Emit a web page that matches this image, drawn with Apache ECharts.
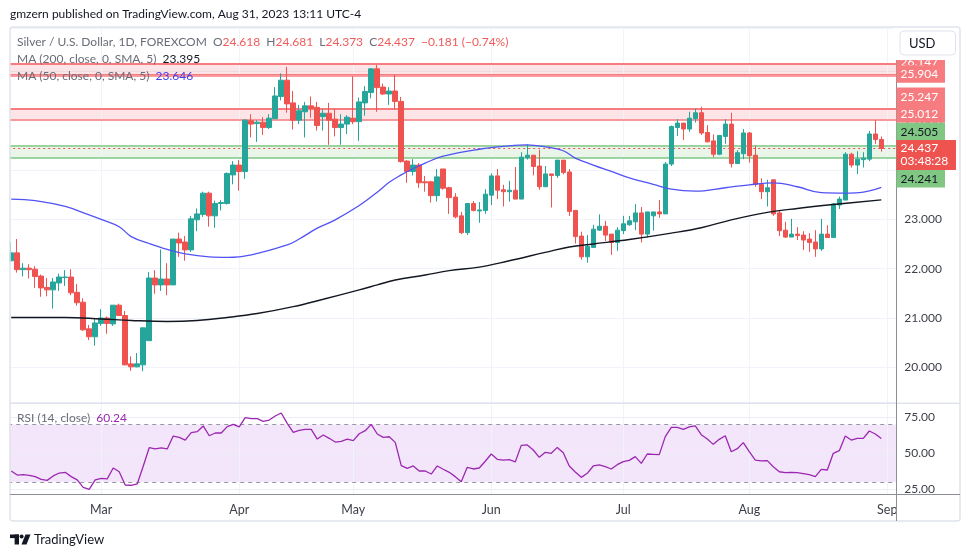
<!DOCTYPE html>
<html><head><meta charset="utf-8">
<script src="https://cdn.jsdelivr.net/npm/echarts/dist/echarts.min.js"></script>
<style>html,body{margin:0;padding:0;background:#fff}#c{width:970px;height:557px}</style>
</head><body><div id="c"></div><script>
const FONT = 'Lato, "Open Sans", sans-serif';
const UP = '#26a69a', DN = '#ef5350';

// ---- categories / tick labels ----
const holidays = ['2023-04-07'];
const monthLabels = ['Mar','Apr','May','Jun','Jul','Aug','Sep'];
const monthStarts = ['2023-03-01','2023-04-03','2023-05-01','2023-06-01','2023-07-03','2023-08-01','2023-09-01'];
const dates = [];
for (let d = new Date(Date.UTC(2023,1,8)); dates.length < 148; d.setUTCDate(d.getUTCDate()+1)) {
  const wd = d.getUTCDay();
  if (wd === 0 || wd === 6) continue;
  const s = d.toISOString().slice(0,10);
  if (holidays.includes(s)) continue;
  dates.push(s);
}

// ---- candles: [open, close, low, high] ----
const ohlc = [
[22.16,22.32,22.14,22.54],[22.32,21.98,21.92,22.60],[21.98,22.01,21.84,22.11],[22.01,21.98,21.80,22.09],
[21.99,21.84,21.61,22.05],[21.85,21.61,21.43,21.88],[21.62,21.57,21.44,21.81],[21.57,21.73,21.19,21.81],
[21.71,21.83,21.55,21.90],[21.82,21.83,21.65,21.97],[21.83,21.51,21.46,21.99],[21.52,21.31,21.25,21.69],
[21.32,20.76,20.74,21.40],[20.78,20.62,20.55,20.86],[20.62,20.90,20.44,20.99],[20.89,21.00,20.84,21.18],
[21.00,20.89,20.68,21.03],[20.88,21.26,20.84,21.26],[21.26,21.05,21.04,21.29],[21.05,20.05,20.04,21.14],
[20.07,20.01,19.93,20.22],[20.01,20.07,20.00,20.29],[20.05,20.80,19.92,20.80],[20.54,21.81,20.54,21.93],
[21.81,21.67,21.49,21.97],[21.67,21.79,21.55,22.39],[21.79,21.67,21.46,22.11],[21.67,22.60,21.67,22.60],
[22.60,22.52,22.24,22.73],[22.54,22.38,22.16,22.66],[22.38,23.01,22.34,23.07],[22.99,23.11,22.76,23.22],
[23.10,23.53,23.05,23.56],[23.53,23.07,22.85,23.56],[23.07,23.32,22.83,23.38],[23.32,23.34,23.18,23.39],
[23.32,23.93,23.30,23.95],[23.90,24.10,23.71,24.18],[24.10,23.97,23.58,24.20],[23.97,25.01,23.82,25.03],
[25.00,24.93,24.66,25.13],[24.94,24.97,24.57,25.01],[24.97,24.86,24.71,25.07],[24.86,25.05,24.83,25.13],
[25.04,25.50,25.03,25.68],[25.49,25.82,25.41,25.96],[25.82,25.34,25.16,26.09],[25.36,25.01,24.82,25.60],
[25.01,25.20,24.93,25.32],[25.18,25.30,24.66,25.38],[25.30,25.25,25.06,25.49],[25.27,24.90,24.80,25.38],
[25.08,25.15,24.80,25.23],[25.15,25.01,24.51,25.36],[25.03,24.86,24.68,25.24],[24.86,24.93,24.51,25.13],
[24.93,25.07,24.73,25.11],[25.05,24.98,24.93,25.90],[24.98,25.38,24.59,25.47],[25.36,25.59,25.10,25.70],
[25.57,26.05,25.45,26.06],[26.05,25.67,25.18,26.13],[25.68,25.54,25.52,25.75],[25.54,25.60,25.32,25.68],
[25.60,25.39,25.23,25.93],[25.39,24.17,24.15,25.48],[24.18,23.97,23.74,24.20],[23.97,24.10,23.89,24.22],
[24.10,23.74,23.64,24.14],[23.76,23.74,23.56,23.88],[23.76,23.48,23.34,23.78],[23.48,23.86,23.36,24.02],
[24.02,23.63,23.60,24.02],[23.64,23.44,23.11,23.66],[23.45,23.05,23.02,23.53],[23.07,22.73,22.70,23.15],
[22.73,23.32,22.68,23.32],[23.32,23.18,23.16,23.37],[23.17,23.19,22.93,23.35],[23.18,23.51,23.11,23.61],
[23.49,23.88,23.29,23.93],[23.88,23.59,23.41,24.02],[23.60,23.56,23.26,23.70],[23.56,23.59,23.36,23.78],
[23.59,23.41,23.41,24.06],[23.41,24.26,23.41,24.36],[24.25,24.30,24.21,24.52],[24.30,24.07,23.89,24.30],
[24.08,23.66,23.60,24.41],[23.66,23.92,23.66,24.08],[23.92,23.89,23.24,23.92],[23.89,24.20,23.84,24.20],
[24.20,23.95,23.91,24.20],[23.96,23.16,23.07,24.02],[23.18,22.65,22.51,23.19],[22.66,22.24,22.18,22.75],
[22.24,22.45,22.12,22.68],[22.43,22.80,22.43,22.89],[22.78,22.86,22.77,23.10],[22.86,22.68,22.56,22.97],
[22.70,22.53,22.28,22.70],[22.53,22.78,22.36,22.84],[22.77,22.91,22.70,23.07],[22.89,22.97,22.87,23.07],
[22.95,23.13,22.78,23.31],[23.13,22.70,22.53,23.25],[22.70,23.15,22.63,23.15],[23.07,23.15,22.77,23.15],
[23.15,23.11,23.03,23.39],[23.11,24.12,23.11,24.16],[24.12,24.88,24.08,24.90],[24.86,24.95,24.69,25.03],
[24.95,24.83,24.61,24.95],[24.83,25.05,24.77,25.18],[25.04,25.16,24.96,25.24],[25.16,24.75,24.71,25.28],
[24.76,24.57,24.56,24.91],[24.59,24.32,24.26,24.72],[24.32,24.70,24.30,24.71],[24.68,24.93,24.53,25.03],
[24.93,24.13,24.05,25.16],[24.13,24.35,24.13,24.40],[24.33,24.75,24.22,24.83],[24.75,24.29,24.15,24.77],
[24.30,23.71,23.66,24.49],[23.71,23.56,23.41,23.83],[23.56,23.64,23.26,23.80],[23.80,23.11,23.07,23.80],
[23.13,22.77,22.66,23.18],[22.78,22.64,22.62,22.95],[22.64,22.70,22.64,23.01],[22.70,22.67,22.58,22.84],
[22.68,22.58,22.38,22.76],[22.60,22.53,22.34,22.72],[22.54,22.40,22.24,22.78],[22.40,22.70,22.36,23.01],
[22.70,22.63,22.63,22.88],[22.63,23.31,22.63,23.33],[23.29,23.41,23.21,23.46],[23.39,24.32,23.39,24.36],
[24.32,24.10,24.05,24.35],[24.10,24.22,23.92,24.38],[24.21,24.24,24.05,24.36],[24.22,24.73,24.18,24.79],
[24.73,24.618,24.53,25.01],[24.618,24.437,24.373,24.681]
];

// ---- moving averages: [bar index, value] ----
const ma200Pts = [[0,21.01],[9,21.01],[15,20.98],[20,20.95],[26,20.93],[31,20.95],[36,21.01],[41,21.09],
[47,21.23],[52,21.38],[58,21.57],[61,21.67],[64,21.77],[69,21.87],[73,21.96],[78,22.03],[83,22.16],[89,22.33],
[93,22.44],[97,22.50],[103,22.59],[110,22.72],[115,22.83],[120,22.99],[126,23.14],[131,23.22],[137,23.30],[145,23.395]];
const ma50Pts = [[0,23.41],[4,23.38],[9,23.26],[13,23.09],[15,23.00],[18,22.85],[20,22.65],[23,22.51],[26,22.39],
[29,22.30],[33,22.24],[36,22.23],[38,22.24],[41,22.31],[46,22.48],[48,22.60],[51,22.82],[54,22.99],[58,23.28],
[61,23.55],[63,23.75],[65,23.90],[67,24.03],[69,24.14],[72,24.28],[78,24.42],[83,24.49],[86,24.51],[89,24.47],
[92,24.39],[94,24.24],[97,24.10],[100,23.97],[103,23.84],[107,23.71],[110,23.61],[114,23.57],[119,23.64],
[123,23.70],[127,23.74],[131,23.66],[135,23.54],[139,23.53],[142,23.55],[145,23.646]];

// ---- RSI(14) ----
const rsi = [37.7,34.9,35.2,34.7,33.8,31.9,31.2,34.3,36.3,36.8,33.8,31.5,26.4,25.0,31.5,32.6,32.2,39.8,37.2,28.0,
27.8,28.7,41.0,53.9,53.0,53.7,53.0,62.0,61.1,59.2,64.3,65.0,69.0,62.2,64.1,64.1,68.5,70.1,68.3,74.7,
74.1,74.1,72.2,73.1,75.9,78.0,70.8,64.6,65.9,66.6,66.6,59.9,62.7,60.4,57.8,58.3,59.9,58.8,63.6,65.7,
70.1,63.4,61.1,61.5,57.6,41.4,39.6,41.2,37.7,37.7,35.6,41.2,38.9,36.8,33.8,30.3,40.3,39.1,39.8,44.5,
49.5,45.8,45.3,45.6,44.0,55.5,55.8,52.3,47.2,50.7,50.0,54.1,50.4,41.2,37.0,33.3,36.1,41.2,41.9,40.7,
39.1,42.1,44.2,45.1,47.7,43.0,49.5,49.3,49.1,61.6,68.0,68.0,66.6,68.3,69.0,62.9,59.9,56.2,59.7,62.2,
51.1,53.2,57.4,51.1,45.3,44.7,44.9,40.7,37.2,36.6,36.8,36.6,35.9,35.2,33.8,38.9,38.4,50.0,51.8,62.0,
59.2,60.4,60.4,65.5,63.4,60.24];

// ---- drawn zones / levels ----
const redZones = [[25.904, 26.147], [25.012, 25.247]];
const redExtraLines = [25.946];
const greenZones = [[24.241, 24.505]];
const rsiGrid = [75, 50, 25];
const rsiBand = [30, 70];
const countdown = '03:48:28';

// ---- derived text ----
const last = ohlc[ohlc.length-1], prevClose = ohlc[ohlc.length-2][1];
const chg = last[1]-prevClose, pct = chg/prevClose*100;
const fx = (v,n) => (v<0?'\u2212':'+') + Math.abs(v).toFixed(n);
const monthIdx = monthStarts.map(d => dates.indexOf(d));
const monthName = {}; monthStarts.forEach((d,i)=>monthName[d]=monthLabels[i]);

const chart = echarts.init(document.getElementById('c'));
const GL = 8.2, GW = 888.1;
const gridLineCol = '#f0f3fa';
const vlines = monthStarts.map(d => ({xAxis: d}));
const FS = 12;

const option = {
  animation: false,
  backgroundColor: '#ffffff',
  textStyle: {fontFamily: FONT},
  grid: [
    {left: GL, width: GW, top: 28, height: 374},
    {left: GL, width: GW, top: 403.5, height: 90.5}
  ],
  xAxis: [
    {type:'category', gridIndex:0, data: dates, boundaryGap:true, show:false},
    {type:'category', gridIndex:1, data: dates, boundaryGap:true,
     axisLine:{show:false}, axisTick:{show:false}, splitLine:{show:false},
     axisLabel:{interval:(i)=>monthIdx.includes(i), formatter:(v)=>monthName[v]||'',
       color:'#3c3f48', fontSize:12.5, margin:9, fontFamily: FONT}}
  ],
  yAxis: [
    {type:'value', gridIndex:0, position:'right', min:19.297, max:26.878, splitNumber:7,
     axisLine:{show:false}, axisTick:{show:false},
     axisLabel:{formatter:v=>v.toFixed(3), showMinLabel:false, showMaxLabel:false, color:'#3c3f48', fontSize:12, margin:8, fontFamily: FONT},
     splitLine:{lineStyle:{color:gridLineCol, width:1}}},
    {type:'value', gridIndex:1, position:'right', min:21.74, max:84.58, show:false}
  ],
  series: [
    {
      type:'candlestick', name:'XAGUSD', xAxisIndex:0, yAxisIndex:0, data: ohlc, barWidth: 5, z: 3,
      itemStyle:{color:UP, color0:DN, borderColor:UP, borderColor0:DN, borderWidth:1},
      markArea:{silent:true, z:1, data:[
        ...redZones.map(z=>[{yAxis:z[0], itemStyle:{color:'rgba(242,54,69,0.13)'}},{yAxis:z[1]}]),
        ...greenZones.map(z=>[{yAxis:z[0], itemStyle:{color:'rgba(76,175,80,0.13)'}},{yAxis:z[1]}])
      ]},
      markLine:{silent:true, z:2, symbol:['none','none'], label:{show:false}, data:[
        ...vlines.map(v=>Object.assign({lineStyle:{color:gridLineCol, width:1, type:'solid'}}, v)),
        ...redZones.map(z=>({yAxis:z[0], lineStyle:{color:'#f77c80', width:1.5, type:'solid'}})),
        ...redZones.map(z=>({yAxis:z[1], lineStyle:{color:'#f77c80', width:2.2, type:'solid'}})),
        ...redExtraLines.map(v=>({yAxis:v, lineStyle:{color:'#f77c80', width:1.2, type:'solid'}})),
        ...greenZones.map(z=>({yAxis:z[0], lineStyle:{color:'#81c784', width:1.5, type:'solid'}})),
        ...greenZones.map(z=>({yAxis:z[1], lineStyle:{color:'#81c784', width:1.5, type:'solid'}})),
        {yAxis:last[1], lineStyle:{color:'#ef5350', width:1, type:[2,3]}}
      ]}
    },
    {type:'line', name:'MA200', xAxisIndex:0, yAxisIndex:0, data: ma200Pts.map(p=>[dates[p[0]], p[1]]),
     smooth:0.4, symbol:'none', z:4, lineStyle:{color:'#131722', width:1.4}},
    {type:'line', name:'MA50', xAxisIndex:0, yAxisIndex:0, data: ma50Pts.map(p=>[dates[p[0]], p[1]]),
     smooth:0.4, symbol:'none', z:4, lineStyle:{color:'#5252f5', width:1.3}},
    {type:'line', name:'RSI', xAxisIndex:1, yAxisIndex:1, data: rsi, symbol:'none', z:5,
     lineStyle:{color:'#9c27b0', width:1.3},
     markArea:{silent:true, z:1, data:[[{yAxis:rsiBand[0], itemStyle:{color:'#f3e6fb'}},{yAxis:rsiBand[1]}]]},
     markLine:{silent:true, z:2, symbol:['none','none'], label:{show:false}, data:[
       ...vlines.map(v=>Object.assign({lineStyle:{color:gridLineCol, width:1, type:'solid'}}, v)),
       ...rsiGrid.map(v=>({yAxis:v, lineStyle:{color:'#eceef5', width:1, type:'solid'},
          label:{show:true, position:'end', distance:8, formatter:(p)=>Number(p.value).toFixed(2), color:'#3c3f48', fontSize:12, fontFamily:FONT}})),
       ...rsiBand.map(v=>({yAxis:v, lineStyle:{color:'#9598a1', width:1, type:[4,4]}}))
     ]}}
  ],
  graphic: [
    // left clip, frame and pane separators
    {type:'rect', z:55, shape:{x:0, y:27, width:9.6, height:470}, style:{fill:'#fff'}, silent:true},
    {type:'rect', z:56, shape:{x:10, y:27, width:950, height:494, r:3}, style:{fill:'none', stroke:'#e0e3eb', lineWidth:1.5}, silent:true},
    {type:'line', z:56, shape:{x1:10, y1:403.2, x2:960, y2:403.2}, style:{stroke:'#e0e3eb', lineWidth:1.5}, silent:true},
    {type:'rect', z:60, shape:{x:897, y:495, width:62, height:25}, style:{fill:'#fff'}, silent:true},
    {type:'line', z:70, shape:{x1:10, y1:494.5, x2:960, y2:494.5}, style:{stroke:'#8b8e97', lineWidth:1}, silent:true},
    {type:'line', z:70, shape:{x1:896.5, y1:60, x2:896.5, y2:521}, style:{stroke:'#8b8e97', lineWidth:1}, silent:true},
    // header texts
    {type:'text', z:80, x:10, y:14, style:{text:'gmzern published on TradingView.com, Aug 31, 2023 13:11 UTC-4', font:FS+'px '+FONT, fill:'#131722', verticalAlign:'middle'}},
    {type:'text', z:80, x:17, y:42, style:{
      text:'{g|Silver / U.S. Dollar, 1D, FOREXCOM}  {g|O}{r|'+last[0].toFixed(3)+'}  {g|H}{r|'+last[3].toFixed(3)+'}  {g|L}{r|'+last[2].toFixed(3)+'}  {g|C}{r|'+last[1].toFixed(3)+'}  {r|'+fx(chg,3)+' ('+fx(pct,2)+'%)}',
      font:FS+'px '+FONT, fill:'#6a6d78', verticalAlign:'middle',
      rich:{g:{fill:'#6a6d78', color:'#6a6d78', fontSize:FS, fontFamily:FONT}, r:{fill:'#f05a5a', color:'#f05a5a', fontSize:FS, fontFamily:FONT}}}},
    {type:'text', z:80, x:17, y:59, style:{
      text:'{g|MA (200, close, 0, SMA, 5)}  {k|'+ma200Pts[ma200Pts.length-1][1].toFixed(3)+'}',
      font:FS+'px '+FONT, fill:'#6a6d78', verticalAlign:'middle',
      rich:{g:{fill:'#6a6d78', color:'#6a6d78', fontSize:FS, fontFamily:FONT}, k:{fill:'#131722', color:'#131722', fontSize:FS, fontFamily:FONT}}}},
    {type:'text', z:80, x:17, y:76, style:{
      text:'{g|MA (50, close, 0, SMA, 5)}  {b|'+ma50Pts[ma50Pts.length-1][1].toFixed(3)+'}',
      font:FS+'px '+FONT, fill:'#6a6d78', verticalAlign:'middle',
      rich:{g:{fill:'#6a6d78', color:'#6a6d78', fontSize:FS, fontFamily:FONT}, b:{fill:'#3f3ff0', color:'#3f3ff0', fontSize:FS, fontFamily:FONT}}}},
    {type:'text', z:80, x:17, y:418, style:{
      text:'{g|RSI (14, close)}  {p|'+rsi[rsi.length-1].toFixed(2)+'}',
      font:FS+'px '+FONT, fill:'#6a6d78', verticalAlign:'middle',
      rich:{g:{fill:'#6a6d78', color:'#6a6d78', fontSize:FS, fontFamily:FONT}, p:{fill:'#9c27b0', color:'#9c27b0', fontSize:FS, fontFamily:FONT}}}},
    // footer
    {type:'rect', z:80, shape:{x:10, y:534.5, width:9, height:3.6}, style:{fill:'#131722'}},
    {type:'rect', z:80, shape:{x:14.6, y:534.5, width:4.4, height:10}, style:{fill:'#131722'}},
    {type:'circle', z:80, shape:{cx:21.6, cy:536.4, r:2}, style:{fill:'#131722'}},
    {type:'polygon', z:80, shape:{points:[[25.5,534.5],[30.5,534.5],[26.5,544.5],[21.5,544.5]]}, style:{fill:'#131722'}},
    {type:'text', z:80, x:34, y:540, style:{text:'TradingView', font:'13px '+FONT, fill:'#131722', verticalAlign:'middle'}}
  ]
};
chart.setOption(option);

// ---- price-axis labels, stacked so they do not overlap ----
const yPix = v => chart.convertToPixel({yAxisIndex:0}, v);
const H = 17.5, AX = 896.5;
const pink = '#f77c80', green = '#81c784';
const curY = yPix(last[1]);
const curTop = curY - 8.5, curBot = curTop + 30;
const above = [
  {v: greenZones[0][1], bg: green, fg:'#131722'},
  {v: redZones[1][0], bg: pink, fg:'#fff'},
  {v: redZones[1][1], bg: pink, fg:'#fff'},
  {v: redZones[0][0], bg: pink, fg:'#fff'}
];
let bound = curTop;
above.forEach(l => {
  let top = yPix(l.v) - H/2;
  if (top + H > bound) top = bound - H;
  bound = top;
  l.top = top;
});
above[3].top -= 2;
const below = [{v: greenZones[0][0], bg: green, fg:'#131722'}];
let bb = curBot;
below.forEach(l => { let top = yPix(l.v) - H/2; if (top < bb) top = bb; bb = top + H; l.top = top; });
const hidden = {v: redZones[0][1], bg: pink, fg:'#fff', top: yPix(redZones[0][1]) - H/2 - 2};
const g = [];
const box = (l, z) => {
  g.push({type:'rect', z:z, shape:{x:AX, y:l.top, width:48.5, height:H}, style:{fill:l.bg}});
  g.push({type:'text', z:z+1, x:AX+4, y:l.top+H/2+0.5, style:{text:l.v.toFixed(3), font:'12px '+FONT, fill:l.fg, verticalAlign:'middle'}});
};
box(hidden, 90);
[...above, ...below].forEach(l => box(l, 92));
g.push({type:'rect', z:94, shape:{x:AX, y:curTop, width:59.5, height:30}, style:{fill:'#ef5350'}});
g.push({type:'text', z:95, x:AX+4, y:curTop+8.5, style:{text:last[1].toFixed(3), font:'12px '+FONT, fill:'#fff', verticalAlign:'middle'}});
g.push({type:'text', z:95, x:AX+4, y:curTop+21.5, style:{text:countdown, font:'12px '+FONT, fill:'#fff', verticalAlign:'middle'}});
// USD button
g.push({type:'rect', z:96, shape:{x:893, y:28, width:66, height:32}, style:{fill:'#fff'}});
g.push({type:'rect', z:97, shape:{x:900, y:31, width:55.5, height:24, r:4}, style:{fill:'#fff', stroke:'#e0e3eb', lineWidth:1}});
g.push({type:'text', z:98, x:909, y:43.5, style:{text:'USD', font:'13px '+FONT, fill:'#131722', verticalAlign:'middle'}});
chart.setOption({graphic: option.graphic.concat(g)});
</script></body></html>
